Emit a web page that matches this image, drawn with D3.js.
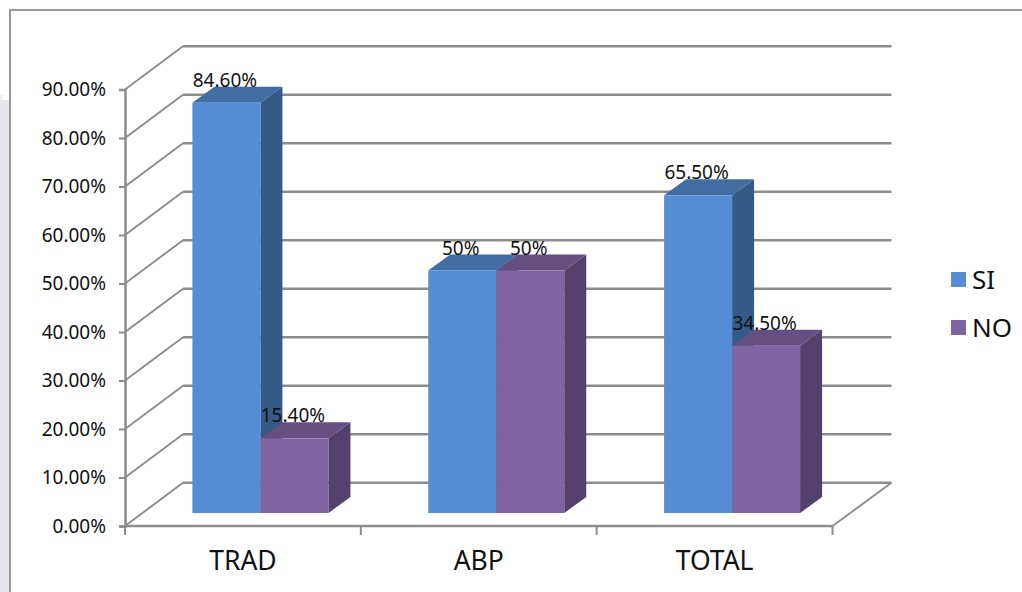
<!DOCTYPE html>
<html>
<head>
<meta charset="utf-8">
<script src="https://cdn.jsdelivr.net/npm/d3@7"></script>
<style>
  html, body { margin: 0; padding: 0; background: #fff; overflow: hidden; }
  text { font-family: "Noto Sans", sans-serif; fill: #111; }
</style>
</head>
<body>
<script>
// Chart values
const categories = ["TRAD", "ABP", "TOTAL"];
const seriesNames = ["SI", "NO"];
const siValues = [84.6, 50, 65.5];
const noValues = [15.4, 50, 34.5];
const siLabels = ["84.60%", "50%", "65.50%"];
const noLabels = ["15.40%", "50%", "34.50%"];
const yTicks = [0, 10, 20, 30, 40, 50, 60, 70, 80, 90];

const colors = {
  SI: { front: "#558ed5", top: "#426ca2", side: "#355a88" },
  NO: { front: "#8064a2", top: "#654f80", side: "#53406b" }
};

const W = 1022, H = 592;
const fontFamily = "'Noto Sans', sans-serif";
const svg = d3.select("body").append("svg").attr("width", W).attr("height", H).style("display", "block");

// Page backdrop and chart frame
svg.append("rect").attr("x", 0).attr("y", 100).attr("width", 9).attr("height", H - 100).attr("fill", "#e6e6ec");
svg.append("rect").attr("x", 0).attr("y", 95).attr("width", 3).attr("height", 5).attr("fill", "#f1f1f5");
svg.append("path").attr("d", `M10,${H}V10H${W}`).attr("fill", "none").attr("stroke", "#999").attr("stroke-width", 2);

// Scales for the front plane of the 3D box
const x = d3.scaleBand().domain(categories).range([125, 832.5]);
const y = d3.scaleLinear().domain([0, 90]).range([526, 89.5]);

// Depth of the wall and of the bars
const wall = { dx: 58, dy: -43.3 };
const bar = { dx: 22, dy: -16 };
const inset = { dx: 17.5, dy: -13 };
const barW = 68;
const axisColor = "#8c8c8c";

// Walls: gridlines run along the back and down the left side
const grid = svg.append("g").attr("fill", "none").attr("stroke", axisColor);
yTicks.forEach(t => {
  grid.append("path").attr("stroke-width", 1.9)
    .attr("d", `M125,${y(t)}L${125 + wall.dx},${y(t) + wall.dy}`);
  grid.append("path").attr("stroke-width", 2.5)
    .attr("d", `M${125 + wall.dx},${y(t) + wall.dy}H${833.5 + wall.dx}`);
});
grid.append("path").attr("stroke-width", 2.5).attr("d", `M125,${y(0)}H832.5`);
grid.append("path").attr("stroke-width", 1.9).attr("d", `M832.5,${y(0)}L${833.5 + wall.dx},${y(0) + wall.dy}`);

// Value axis
const yAxis = svg.append("g").attr("transform", "translate(125,0)")
  .call(d3.axisLeft(y).tickValues(yTicks).tickSize(6).tickPadding(13).tickFormat(d => d.toFixed(2) + "%"));
yAxis.select(".domain").attr("stroke", axisColor).attr("stroke-width", 2.5);
yAxis.selectAll(".tick line").attr("stroke", axisColor).attr("stroke-width", 2);
yAxis.selectAll("text").attr("font-size", 19).attr("font-family", fontFamily).attr("fill", "#111");

// Category axis
const xAxis = svg.append("g").attr("transform", `translate(0,${y(0)})`)
  .call(d3.axisBottom(x).tickSize(0).tickPadding(25));
xAxis.select(".domain").remove();
xAxis.selectAll("text").attr("font-size", 26.5).attr("font-family", fontFamily).attr("fill", "#111");
const boundaries = categories.map(c => x(c)).concat([x.range()[1]]);
svg.append("g").selectAll("line").data(boundaries).join("line")
  .attr("x1", d => d).attr("x2", d => d)
  .attr("y1", y(0)).attr("y2", y(0) + 9)
  .attr("stroke", axisColor).attr("stroke-width", 2);

// One 3D column: side, top, then front
function column(g, cx, value, c) {
  const x0 = cx, x1 = cx + barW;
  const yb = y(0) + inset.dy, yt = y(value) + inset.dy;
  g.append("path").attr("fill", c.side)
    .attr("d", `M${x1},${yt}L${x1 + bar.dx},${yt + bar.dy}V${yb + bar.dy}L${x1},${yb}Z`);
  g.append("path").attr("fill", c.top)
    .attr("d", `M${x0},${yt}L${x0 + bar.dx},${yt + bar.dy}H${x1 + bar.dx}L${x1},${yt}Z`);
  g.append("rect").attr("fill", c.front)
    .attr("x", x0).attr("y", yt).attr("width", barW).attr("height", yb - yt);
}

const bars = svg.append("g");
categories.forEach((cat, i) => {
  const cx = x(cat) + x.bandwidth() / 2 + inset.dx;
  column(bars, cx - barW, siValues[i], colors.SI);
  column(bars, cx, noValues[i], colors.NO);
});

// Value labels sit over the column tops
const labels = svg.append("g").attr("font-size", 19).attr("text-anchor", "middle");
categories.forEach((cat, i) => {
  const cx = x(cat) + x.bandwidth() / 2 + inset.dx;
  labels.append("text").attr("x", cx - barW / 2 - 1.5).attr("y", y(siValues[i]) + inset.dy - 16).text(siLabels[i]);
  labels.append("text").attr("x", cx + barW / 2 - 1.5).attr("y", y(noValues[i]) + inset.dy - 16).text(noLabels[i]);
});

// Legend
const legend = svg.append("g");
seriesNames.forEach((name, i) => {
  const ly = 272 + i * 48;
  legend.append("rect").attr("x", 951).attr("y", ly).attr("width", 15).attr("height", 15).attr("fill", colors[name].front);
  legend.append("text").attr("x", 972).attr("y", ly + 17).attr("font-size", 26).text(name);
});
</script>
</body>
</html>
